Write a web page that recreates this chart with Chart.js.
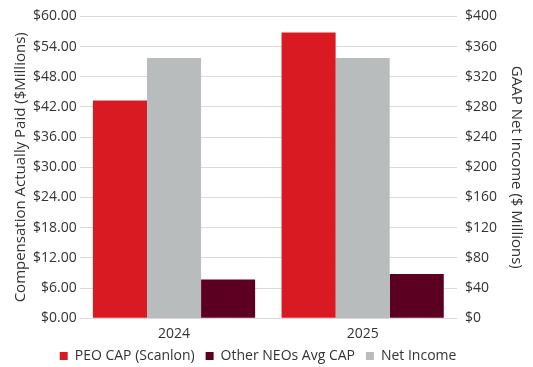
<!DOCTYPE html>
<html>
<head>
<meta charset="utf-8">
<script src="https://cdn.jsdelivr.net/npm/chart.js@4"></script>
<style>
  html, body { margin: 0; padding: 0; background: #fff; }
  #wrap { width: 533px; height: 367px; }
</style>
</head>
<body>
<div id="wrap"><canvas id="capChart"></canvas></div>
<script>
// Data
const years = ['2024', '2025'];
const peoCap = [43.3, 56.8];          // $M, left axis
const otherNeoCap = [7.7, 8.8];       // $M, left axis
const netIncome = [345, 345];         // $M, right axis
const legendOrder = ['PEO CAP (Scanlon)', 'Other NEOs Avg CAP', 'Net Income'];

const font = "'Open Sans', sans-serif";
Chart.defaults.font.family = font;
Chart.defaults.color = '#333';

const ctx = document.getElementById('capChart').getContext('2d');
new Chart(ctx, {
  type: 'bar',
  data: {
    labels: years,
    datasets: [
      { label: 'PEO CAP (Scanlon)', data: peoCap, backgroundColor: '#DA1A22', yAxisID: 'y' },
      { label: 'Net Income', data: netIncome, backgroundColor: '#B8BCBC', yAxisID: 'y1' },
      { label: 'Other NEOs Avg CAP', data: otherNeoCap, backgroundColor: '#5C0022', yAxisID: 'y' }
    ]
  },
  options: {
    responsive: true,
    maintainAspectRatio: false,
    animation: false,
    layout: { padding: { top: 0, left: 0, right: 6, bottom: -6 } },
    datasets: { bar: { categoryPercentage: 0.86, barPercentage: 1 } },
    scales: {
      x: {
        grid: { display: false, drawTicks: false },
        border: { display: false },
        ticks: { font: { size: 14 }, color: '#333', padding: 7 }
      },
      y: {
        position: 'left',
        min: 0, max: 60,
        ticks: { stepSize: 6, font: { size: 14 }, color: '#333', padding: 3,
          callback: v => '$' + v.toFixed(2) },
        grid: { color: '#DADADA', drawTicks: false },
        border: { display: false },
        title: { display: true, text: 'Compensation Actually Paid ($Millions)', font: { size: 15 }, color: '#333',
          padding: { top: 12, bottom: 0 } }
      },
      y1: {
        position: 'right',
        min: 0, max: 400,
        ticks: { stepSize: 40, font: { size: 14 }, color: '#333', padding: 8,
          callback: v => '$' + v },
        grid: { display: false, drawTicks: false },
        border: { display: false },
        title: { display: true, text: 'GAAP Net Income ($ Millions)', font: { size: 15 }, color: '#333', padding: 2 }
      }
    },
    plugins: {
      legend: {
        position: 'bottom',
        labels: {
          boxWidth: 8, boxHeight: 8, padding: 0,
          font: { size: 14 }, color: '#333',
          sort: (a, b) => legendOrder.indexOf(a.text.trim()) - legendOrder.indexOf(b.text.trim()),
          generateLabels: chart => Chart.defaults.plugins.legend.labels.generateLabels(chart)
            .map(item => Object.assign(item, { text: item.text + '   ' }))
        }
      },
      tooltip: { enabled: false }
    }
  }
});
</script>
</body>
</html>
